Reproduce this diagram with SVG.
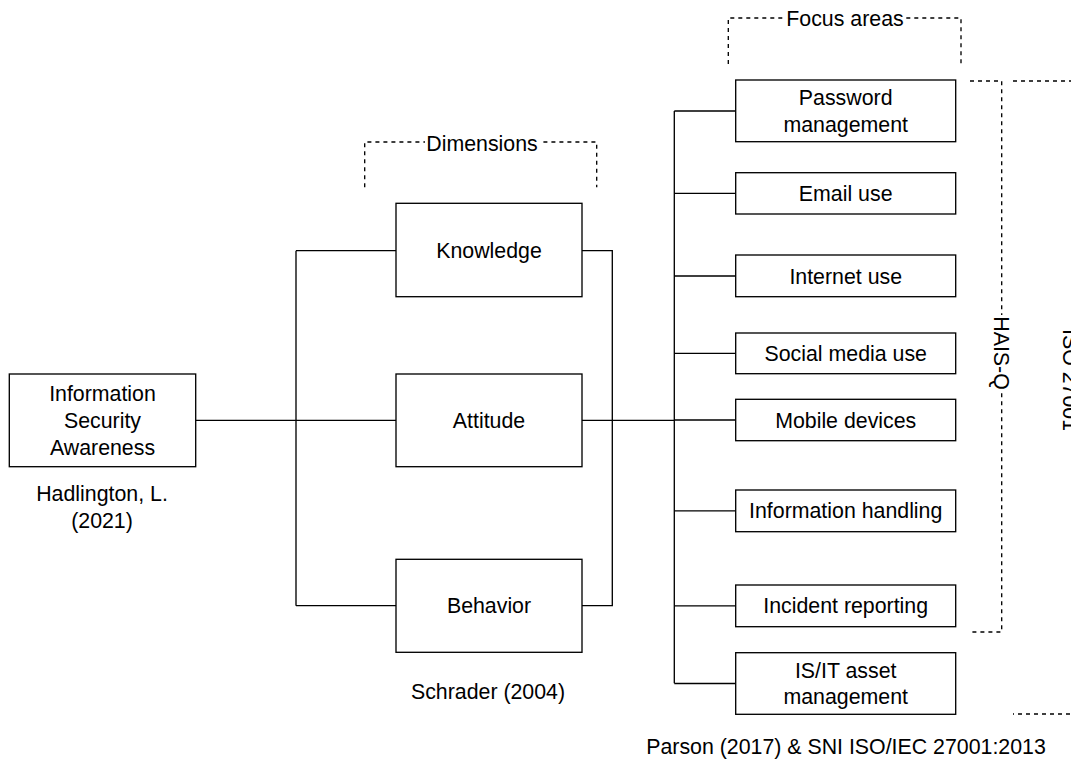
<svg xmlns="http://www.w3.org/2000/svg" width="1071" height="763" viewBox="0 0 1071 763">
<style>
.box{fill:#fff;stroke:#000;stroke-width:1.33}
.ln{fill:none;stroke:#000;stroke-width:1.33}
.dash{fill:none;stroke:#000;stroke-width:1.33;stroke-dasharray:4 4}
text{font-family:"Liberation Sans",Arial,Helvetica,sans-serif;font-size:21.33px;fill:#000;text-anchor:middle}
</style>
<rect width="1071" height="763" fill="#fff"/>
<g id="connectors">
<path class="ln" d="M195.7 420.3H296M296 250.7V605.7M296 250.7H396M296 420.3H396M296 605.7H396"/>
<path class="ln" d="M582 250.7H612.3V605.7H582M582 420.3H674.3M674.3 111V683.3"/>
<path class="ln" d="M674.3 111H735.7M674.3 193.3H735.7M674.3 276H735.7M674.3 353.3H735.7M674.3 420H735.7M674.3 510.8H735.7M674.3 605.8H735.7M674.3 683.5H735.7"/>
</g>
<g id="bracket-dimensions">
<path class="dash" d="M364.7 187.3V142H596.7V187.3"/>
<rect x="425" y="131" width="115" height="22" fill="#fff"/>
<text x="482" y="150.5">Dimensions</text>
</g>
<g id="bracket-focus">
<path class="dash" d="M728.3 64V18H961V64"/>
<rect x="785" y="7" width="121" height="22" fill="#fff"/>
<text x="845" y="26">Focus areas</text>
</g>
<g id="bracket-haisq">
<path class="dash" d="M970 81H1001.7V632H970"/>
<rect x="991" y="315" width="21" height="76" fill="#fff"/>
<text transform="translate(1001.7 353) rotate(90)" y="7.6">HAIS-Q</text>
</g>
<g id="bracket-iso">
<path class="dash" d="M1013 81H1073V714H1013"/>
<text transform="translate(1071 380) rotate(90)" y="7.6">ISO 27001</text>
</g>
<g id="isa">
<rect class="box" x="9.3" y="374" width="186.4" height="92.7"/>
<text x="102.5" y="401.2">Information</text>
<text x="102.5" y="427.8">Security</text>
<text x="102.5" y="454.5">Awareness</text>
</g>
<g id="hadlington">
<text x="102" y="500.8">Hadlington, L.</text>
<text x="102" y="527.5">(2021)</text>
</g>
<g id="knowledge">
<rect class="box" x="396" y="203.3" width="186" height="93.4"/>
<text x="489" y="257.8">Knowledge</text>
</g>
<g id="attitude">
<rect class="box" x="396" y="374" width="186" height="92.7"/>
<text x="489" y="427.8">Attitude</text>
</g>
<g id="behavior">
<rect class="box" x="396" y="559.3" width="186" height="93"/>
<text x="489" y="613.3">Behavior</text>
</g>
<g id="schrader">
<text x="488" y="699.3">Schrader (2004)</text>
</g>
<g id="password">
<rect class="box" x="735.7" y="80" width="220" height="61.7"/>
<text x="845.7" y="105.2">Password</text>
<text x="845.7" y="131.9">management</text>
</g>
<g id="email">
<rect class="box" x="735.7" y="172.7" width="220" height="41.3"/>
<text x="845.7" y="200.9">Email use</text>
</g>
<g id="internet">
<rect class="box" x="735.7" y="255" width="220" height="41.7"/>
<text x="845.7" y="283.6">Internet use</text>
</g>
<g id="social">
<rect class="box" x="735.7" y="333" width="220" height="40.7"/>
<text x="845.7" y="360.9">Social media use</text>
</g>
<g id="mobile">
<rect class="box" x="735.7" y="399.3" width="220" height="41.4"/>
<text x="845.7" y="427.6">Mobile devices</text>
</g>
<g id="infohandling">
<rect class="box" x="735.7" y="490" width="220" height="41.7"/>
<text x="845.7" y="518.4">Information handling</text>
</g>
<g id="incident">
<rect class="box" x="735.7" y="585" width="220" height="41.7"/>
<text x="845.7" y="613.4">Incident reporting</text>
</g>
<g id="isit">
<rect class="box" x="735.7" y="652.7" width="220" height="61.6"/>
<text x="845.7" y="677.7">IS/IT asset</text>
<text x="845.7" y="704.3">management</text>
</g>
<g id="parson">
<text x="846" y="754.3">Parson (2017) &amp; SNI ISO/IEC 27001:2013</text>
</g>
</svg>
